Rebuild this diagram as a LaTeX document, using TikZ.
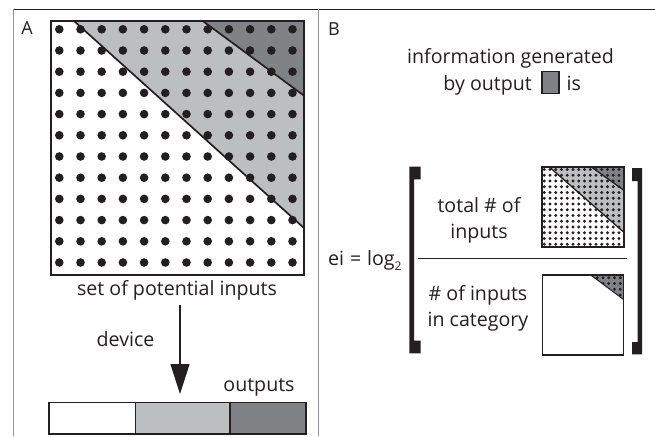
\documentclass[tikz,border=0pt]{standalone}
\usepackage{fontspec}
\setmainfont{Open Sans}
\usetikzlibrary{arrows.meta}

\definecolor{ink}{HTML}{231F20}
\definecolor{lightfill}{HTML}{BCBEC0}
\definecolor{darkfill}{HTML}{808285}
\definecolor{framegray}{HTML}{939598}

% square grid of dots: x0, y0, count, first offset, step, radius
\newcommand\dotgrid[6]{%
  \pgfmathtruncatemacro\dgmax{#3-1}%
  \foreach \i in {0,...,\dgmax}{%
    \foreach \j in {0,...,\dgmax}{%
      \fill[ink] ({#1+#4+\i*#5},{#2+#4+\j*#5}) circle[radius=#6pt];}}}

% the set of inputs split by the two category boundaries
% x0, y0, width, height, dot count, dot offset, dot step, dot radius, border width
\newcommand\inputsquare[9]{%
  \fill[white] (#1,#2) rectangle ++(#3,#4);
  \fill[lightfill] ({#1+0.091*#3},#2) -- ({#1+#3},#2) -- ({#1+#3},{#2+0.815*#4}) -- cycle;
  \fill[darkfill] ({#1+0.6*#3},#2) -- ({#1+#3},#2) -- ({#1+#3},{#2+0.294*#4}) -- cycle;
  \dotgrid{#1}{#2}{#5}{#6}{#7}{#8}
  \draw[ink, line width=0.65*#9] ({#1+0.091*#3},#2) -- ({#1+#3},{#2+0.815*#4});
  \draw[ink, line width=0.65*#9] ({#1+0.6*#3},#2) -- ({#1+#3},{#2+0.294*#4});
  \draw[ink, line width=#9] (#1,#2) rectangle ++(#3,#4);}

\tikzset{
  label/.style={inner sep=0pt, text=ink, font=\fontsize{19.6}{22}\selectfont},
  panel/.style={inner sep=0pt, text=ink, font=\fontsize{18}{20}\selectfont},
  outcell/.style={draw=ink, line width=1.4pt},
  bracket/.style={fill=ink},
  flowarrow/.style={draw=ink, line width=1.3pt, -{Triangle[width=19pt,length=30pt]}}
}

\begin{document}
\begin{tikzpicture}[x=1pt,y=-1pt]
\useasboundingbox (0,0) rectangle (655,436);

% panel frame
\draw[ink, line width=0.9pt] (13,9) -- (655,9);
\draw[framegray, line width=0.9pt] (13,9) -- (13,436);
\draw[framegray, line width=0.9pt] (318,9) -- (318,436);

\node[panel] (labA) at (27,28) {A};
\node[panel] (labB) at (334,29) {B};

% ---- panel A ----
\inputsquare{51}{21}{253}{254}{12}{8.3}{21.2}{4.3}{2.6pt}

\node[label, anchor=base] (setlbl) at (177,295) {set of potential inputs};
\coordinate (arrowtip) at (180,394);
\draw[flowarrow] (setlbl.south -| arrowtip) ++(0,5) -- (arrowtip);
\node[label, anchor=base] (devlbl) at (125.5,346.5) {device};
\node[label, anchor=base] (outlbl) at (259,391.5) {outputs};

\path[outcell, fill=white] (49,402.7) rectangle (135.7,434);
\path[outcell, fill=lightfill] (135.7,402.7) rectangle (230,434);
\path[outcell, fill=darkfill] (230,402.7) rectangle (306,434);

% ---- panel B ----
\node[label, anchor=base] (info1) at (510.5,63.3) {information generated};
\node[label, anchor=base east] (info2) at (532,90) {by output};
\node[draw=ink, fill=darkfill, line width=1.2pt, minimum width=17pt, minimum height=22pt, inner sep=0pt]
  (legbox) at (550.5,82.5) {};
\node[label, anchor=base west] (info3) at (566.5,90) {is};

\node[label, anchor=base west] (eilbl) at (328,265)
  {ei\hspace{0.3em}=\hspace{0.3em}log\raisebox{-0.55ex}{\fontsize{12}{13}\selectfont 2}};

% square brackets
\fill[bracket] (409.3,166.7) -- (420.7,166.7) -- (420.7,179.3) -- (414,179.3)
  -- (414,340.7) -- (420.7,340.7) -- (420.7,353.3) -- (409.3,353.3) -- cycle;
\fill[bracket] (642,168) -- (632,168) -- (632,181) -- (637.5,181)
  -- (637.5,342) -- (632,342) -- (632,354.3) -- (642,354.3) -- cycle;

% fraction bar
\draw[ink, line width=1pt] (417.7,258.3) -- (627.3,258.3);

\node[label, anchor=base] (num1) at (479,212) {total \# of};
\node[label, anchor=base] (num2) at (479,238) {inputs};
\node[label, anchor=base] (den1) at (478,300) {\# of inputs};
\node[label, anchor=base] (den2) at (478,326) {in category};

% numerator: all inputs
\inputsquare{541.5}{166.7}{82.5}{80.6}{14}{2.8}{5.75}{1.65}{2pt}

% denominator: only the inputs of the dark category
\fill[white] (542.7,275) rectangle (623.3,355);
\begin{scope}
  \clip (590.7,275) -- (623.3,275) -- (623.3,299.3) -- cycle;
  \fill[darkfill] (590.7,275) rectangle (623.3,300);
  \dotgrid{542.7}{275}{14}{2.8}{5.75}{1.65}
\end{scope}
\draw[ink, line width=1pt] (590.7,275) -- (623.3,299.3);
\draw[ink, line width=1.1pt] (542.7,275) rectangle (623.3,355);
\end{tikzpicture}
\end{document}
